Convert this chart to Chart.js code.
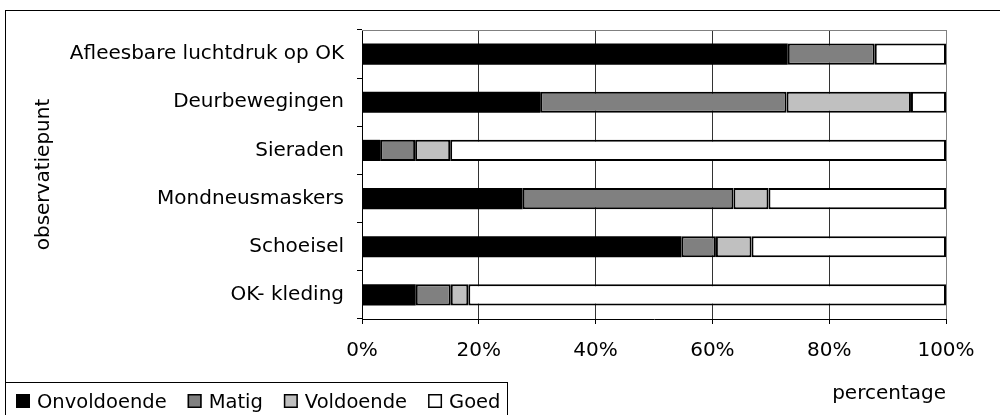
<!DOCTYPE html>
<html>
<head>
<meta charset="utf-8">
<script src="https://cdn.jsdelivr.net/npm/chart.js@4/dist/chart.umd.min.js"></script>
<style>
  html, body { margin: 0; padding: 0; background: #ffffff; }
  #chart { display: block; }
</style>
</head>
<body>
<canvas id="chart" width="1000" height="415"></canvas>
<script>
// Categories (top to bottom) and percentage per rating
const categories = ['Afleesbare luchtdruk op OK', 'Deurbewegingen', 'Sieraden', 'Mondneusmaskers', 'Schoeisel', 'OK- kleding'];
const seriesNames = ['Onvoldoende', 'Matig', 'Voldoende', 'Goed'];
const onvoldoende = [72.9, 30.5, 3.1, 27.5, 54.7, 9.2];
const matig = [14.9, 42.2, 6.0, 36.1, 5.9, 6.0];
const voldoende = [0, 21.3, 6.0, 6.0, 6.1, 3.0];
const goed = [12.2, 6.0, 84.9, 30.4, 33.3, 81.8];
const xTickValues = [0, 20, 40, 60, 80, 100];
const xTickLabels = ['0%', '20%', '40%', '60%', '80%', '100%'];

const FONT = 'DejaVu Sans';
const fills = ['#000000', '#808080', '#c0c0c0', '#ffffff'];

function makeDataset(label, data, i) {
  return {
    label: label,
    data: data,
    backgroundColor: fills[i],
    borderColor: '#000000',
    // black bars need no outline (avoids a light seam inside them)
    borderWidth: i === 0 ? 0 : 2,
    borderSkipped: false,
    barPercentage: 0.44,
    categoryPercentage: 1
  };
}

// Frame, plot top edge and legend box, drawn like the original
const framePlugin = {
  id: 'frame',
  beforeDatasetsDraw(chart) {
    const ctx = chart.ctx;
    const a = chart.chartArea;
    ctx.save();
    ctx.strokeStyle = '#808080';
    ctx.lineWidth = 1;
    ctx.beginPath();
    ctx.moveTo(a.left, Math.round(a.top) + 0.5);
    ctx.lineTo(a.right, Math.round(a.top) + 0.5);
    ctx.stroke();
    ctx.restore();
  },
  afterDraw(chart) {
    const ctx = chart.ctx;
    ctx.save();
    ctx.strokeStyle = '#000000';
    ctx.lineWidth = 1;
    // outer border (runs off the right and bottom edge)
    ctx.strokeRect(5.5, 10.5, 1010, 420);
    // legend box
    ctx.strokeRect(5.5, 382.5, 502, 40);

    ctx.font = '19.5px "' + FONT + '"';
    ctx.textBaseline = 'alphabetic';
    let x = 16;
    chart.data.datasets.forEach(function(ds) {
      ctx.fillStyle = ds.backgroundColor;
      ctx.fillRect(x, 394, 14, 14);
      ctx.strokeStyle = '#000000';
      ctx.lineWidth = 1.5;
      ctx.strokeRect(x + 0.75, 394.75, 12.5, 12.5);
      ctx.fillStyle = '#000000';
      ctx.fillText(ds.label, x + 21, 408);
      x += 21 + ctx.measureText(ds.label).width + 21;
    });
    ctx.restore();
  }
};

const chart = new Chart(document.getElementById('chart'), {
  type: 'bar',
  data: {
    labels: categories,
    datasets: [
      makeDataset(seriesNames[0], onvoldoende, 0),
      makeDataset(seriesNames[1], matig, 1),
      makeDataset(seriesNames[2], voldoende, 2),
      makeDataset(seriesNames[3], goed, 3)
    ]
  },
  options: {
    indexAxis: 'y',
    responsive: false,
    animation: false,
    layout: { padding: { left: 0, right: 54, top: 30, bottom: 0 } },
    plugins: {
      legend: { display: false },
      tooltip: { enabled: false }
    },
    scales: {
      x: {
        stacked: true,
        min: 0,
        max: 100,
        afterBuildTicks: function(scale) {
          scale.ticks = xTickValues.map(function(v) { return { value: v }; });
        },
        afterFit: function(scale) { scale.height = 96; },
        grid: {
          color: function(c) { return c.index === 5 ? '#808080' : '#333333'; },
          lineWidth: 1,
          tickLength: 5,
          tickColor: '#000000'
        },
        border: { color: '#000000', width: 1 },
        ticks: {
          maxRotation: 0,
          padding: 15,
          color: '#000000',
          font: { family: FONT, size: 20 },
          callback: function(value) {
            return xTickLabels[xTickValues.indexOf(value)];
          }
        },
        title: {
          display: true,
          text: 'percentage',
          align: 'end',
          color: '#000000',
          font: { family: FONT, size: 20 },
          padding: { top: 0, bottom: 9 }
        }
      },
      y: {
        stacked: true,
        afterFit: function(scale) { scale.width = 362; },
        grid: {
          offset: true,
          drawOnChartArea: false,
          tickLength: 5,
          color: '#000000'
        },
        border: { color: '#000000', width: 1 },
        ticks: {
          padding: 13,
          color: '#000000',
          font: { family: FONT, size: 20 }
        },
        title: {
          display: true,
          text: 'observatiepunt',
          color: '#000000',
          font: { family: FONT, size: 20 },
          padding: { top: 32, bottom: 0 }
        }
      }
    }
  },
  plugins: [framePlugin]
});
</script>
</body>
</html>
